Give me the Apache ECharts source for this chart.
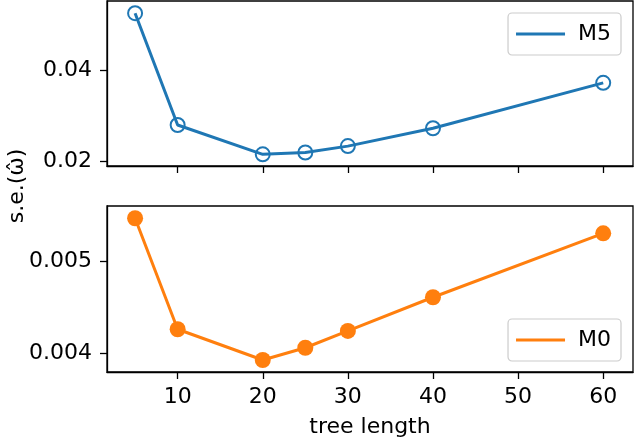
<!DOCTYPE html>
<html><head><meta charset="utf-8">
<script src="https://cdn.jsdelivr.net/npm/echarts@6/dist/echarts.min.js"></script>
<style>html,body{margin:0;padding:0;background:#fff}#c{width:634px;height:442px}</style>
</head><body><div id="c"></div>
<script>
const treeLength = [5, 10, 20, 25, 30, 40, 60];
const seM5 = [0.0524, 0.0280, 0.0216, 0.0220, 0.0234, 0.0273, 0.0372];
const seM0 = [0.005463, 0.00426, 0.003927, 0.00406, 0.004242, 0.004607, 0.0053];
const xTicks = [10, 20, 30, 40, 50, 60];
const yTicksTop = [0.02, 0.04];
const yTicksBottom = [0.004, 0.005];
const seriesNames = ['M5', 'M0'];

const FONT = 'DejaVu Sans';
const FS = 22;
const blue = '#1f77b4', orange = '#ff7f0e';

function pairs(xs, ys){ return xs.map((x,i)=>[x, ys[i]]); }

const chart = echarts.init(document.getElementById('c'), null, {renderer:'canvas'});
const xBase = {
  type:'value', min:1.7, max:63.5,
  splitLine:{show:false},
  axisLine:{show:true, onZero:false, lineStyle:{color:'#000', width:1.3}},
  axisTick:{show:true, inside:false, length:7, lineStyle:{color:'#000', width:1.3}, customValues:xTicks},
};
const yBase = {
  type:'value', scale:true,
  splitLine:{show:false},
  axisLine:{show:true, onZero:false, lineStyle:{color:'#000', width:1.3}},
  axisTick:{show:true, inside:false, length:7, lineStyle:{color:'#000', width:1.3}},
};
const legendBase = {
  orient:'horizontal', right:13, itemWidth:49, itemHeight:3, itemGap:10,
  icon:'rect',
  padding:[10,10,10,8],
  borderColor:'#cccccc', borderWidth:1.2, borderRadius:4,
  backgroundColor:'rgba(255,255,255,0.8)',
  textStyle:{fontFamily:FONT, fontSize:FS, color:'#000', padding:[0,0,0,8]},
  selectedMode:false
};
chart.setOption({
  animation:false,
  backgroundColor:'#fff',
  grid:[
    {left:107, top:1, right:1, height:165, show:true, borderColor:'#000', borderWidth:1.3, backgroundColor:'transparent'},
    {left:107, top:206, right:1, height:166, show:true, borderColor:'#000', borderWidth:1.3, backgroundColor:'transparent'}
  ],
  xAxis:[
    Object.assign({}, xBase, {gridIndex:0, axisLabel:{show:false}}),
    Object.assign({}, xBase, {gridIndex:1,
      axisLabel:{show:true, customValues:xTicks, fontFamily:FONT, fontSize:FS, color:'#000', margin:14},
      name:'tree length', nameLocation:'middle', nameGap:44,
      nameTextStyle:{fontFamily:FONT, fontSize:FS, color:'#000'}})
  ],
  yAxis:[
    Object.assign({}, yBase, {gridIndex:0, min:0.01906, max:0.05506,
      axisTick:Object.assign({}, yBase.axisTick, {customValues:yTicksTop}),
      axisLabel:{customValues:yTicksTop, fontFamily:FONT, fontSize:FS, color:'#000', margin:15, formatter:v=>v.toFixed(2)}}),
    Object.assign({}, yBase, {gridIndex:1, min:0.003797, max:0.005596,
      axisTick:Object.assign({}, yBase.axisTick, {customValues:yTicksBottom}),
      axisLabel:{customValues:yTicksBottom, fontFamily:FONT, fontSize:FS, color:'#000', margin:15, formatter:v=>v.toFixed(3)}})
  ],
  legend:[
    Object.assign({}, legendBase, {top:13, data:[{name:seriesNames[0], itemStyle:{color:blue, borderWidth:0}}]}),
    Object.assign({}, legendBase, {top:319, data:[{name:seriesNames[1], itemStyle:{color:orange, borderWidth:0}}]})
  ],
  graphic:[{
    type:'text', x:17, y:186, rotation:Math.PI/2,
    style:{text:'s.e.(\u03C9\u0302)', fontFamily:FONT, fontSize:FS, fill:'#000', align:'center', verticalAlign:'middle'}
  }],
  series:[
    {name:seriesNames[0], type:'line', xAxisIndex:0, yAxisIndex:0, data:pairs(treeLength, seM5),
     symbol:'circle', symbolSize:14, lineStyle:{color:blue, width:3},
     itemStyle:{color:'rgba(0,0,0,0)', borderColor:blue, borderWidth:2}, clip:false},
    {name:seriesNames[1], type:'line', xAxisIndex:1, yAxisIndex:1, data:pairs(treeLength, seM0),
     symbol:'circle', symbolSize:16, lineStyle:{color:orange, width:3},
     itemStyle:{color:orange, borderWidth:0}, clip:false}
  ]
});
</script></body></html>
